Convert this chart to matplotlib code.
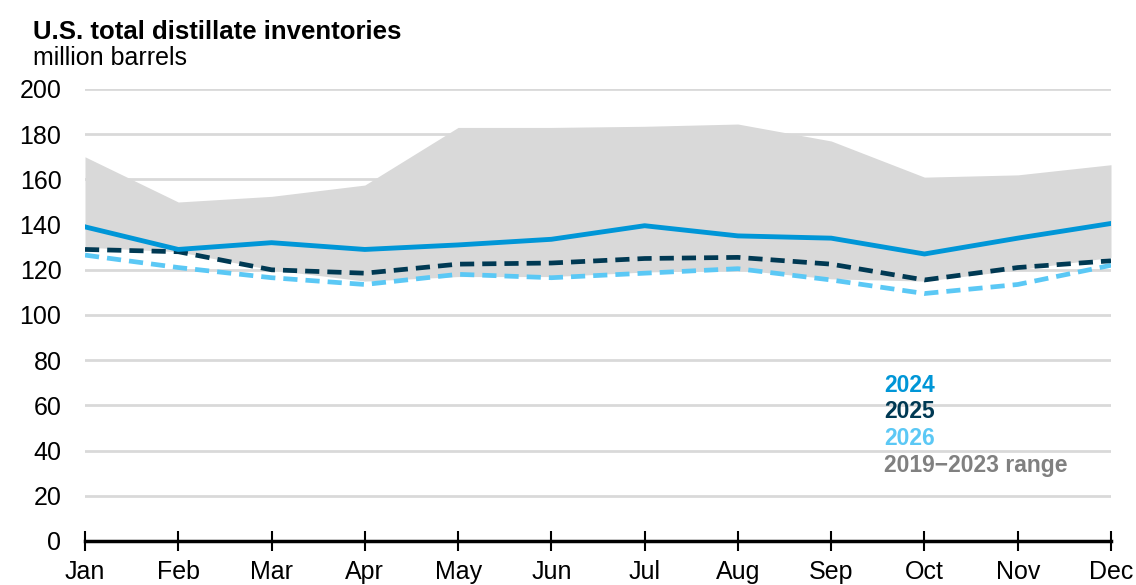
import matplotlib
matplotlib.use("Agg")
import matplotlib.pyplot as plt

plt.rcParams["font.family"] = ["Liberation Sans", "DejaVu Sans"]

months = ["Jan", "Feb", "Mar", "Apr", "May", "Jun", "Jul", "Aug", "Sep", "Oct", "Nov", "Dec"]
range_high = [170, 150, 152.5, 157.5, 183, 183, 183.5, 184.5, 177, 161, 162, 166.5]
range_low = [130, 128, 120, 115, 117, 117, 119, 120, 116, 115, 120, 125.5]
inv_2024 = [139, 129, 132, 129, 131, 133.5, 139.5, 135, 134, 127, 134, 140.5]
inv_2025 = [129, 128, 120, 118.5, 122.5, 123, 125, 125.5, 122.5, 115.5, 121, 124]
inv_2026 = [126.5, 121, 116.5, 113.5, 118, 116.5, 118.5, 120.5, 115.5, 109.5, 113.5, 122]
yticks = [0, 20, 40, 60, 80, 100, 120, 140, 160, 180, 200]

c24 = "#0096D7"
c25 = "#003953"
c26 = "#5BC8F5"

W, H = 1136, 585
fig = plt.figure(figsize=(W / 100, H / 100), dpi=100)
ax = fig.add_axes([85 / W, 44 / H, 1026 / W, 452 / H])

x = list(range(len(months)))
ax.fill_between(x, range_low, range_high, color="#D9D9D9", linewidth=0, zorder=1)
ax.plot(x, inv_2024, color=c24, linewidth=3.5, zorder=4)
ax.plot(x, inv_2025, color=c25, linewidth=3.4, linestyle=(0, (3.0, 1.7)), zorder=3)
ax.plot(x, inv_2026, color=c26, linewidth=3.4, linestyle=(0, (3.0, 1.7)), zorder=2)

ax.set_xlim(0, 11)
ax.set_ylim(0, 200)
ax.set_yticks(yticks)
ax.set_xticks(x)
ax.set_xticklabels(months)
ax.yaxis.grid(True, color="#D9D9D9", linewidth=2, zorder=0)
ax.set_axisbelow(True)
for s in ["top", "right", "left"]:
    ax.spines[s].set_visible(False)
ax.spines["bottom"].set_linewidth(2.5)
ax.spines["bottom"].set_color("black")
ax.spines["bottom"].set_zorder(5)
ax.tick_params(axis="y", length=0, pad=17, labelsize=18)
# month labels kept just inside the bottom edge
ax.tick_params(axis="x", direction="inout", length=14, width=1.5, pad=6.5, labelsize=18)

legend_items = [("2024", c24, 392), ("2025", c25, 418), ("2026", c26, 445),
                ("2019\u22122023 range", "#808080", 472)]
for label, col, yb in legend_items:
    fig.text(884 / W, 1 - yb / H, label, color=col, fontsize=16.5, fontweight="bold", va="baseline")

fig.text(33 / W, 1 - 39 / H, "U.S. total distillate inventories", fontsize=18.5, fontweight="bold", va="baseline")
fig.text(33 / W, 1 - 65 / H, "million barrels", fontsize=18, va="baseline")

fig.savefig("out.png", dpi=100)
